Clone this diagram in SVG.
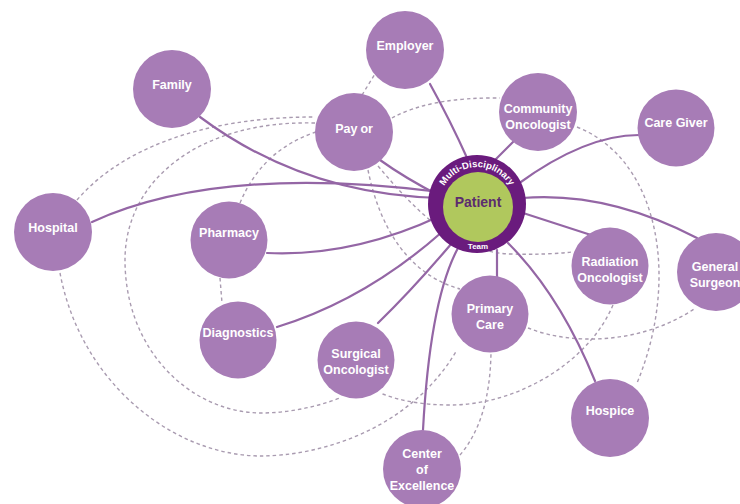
<svg xmlns="http://www.w3.org/2000/svg" width="740" height="504" viewBox="0 0 740 504">
<defs>
<style>
.n{fill:#a77cb6}
.t{font-family:"Liberation Sans",Arial,sans-serif;font-weight:bold;font-size:12.5px;fill:#fff;text-anchor:middle}
.s{fill:none;stroke:#9466a5;stroke-width:2.2;stroke-linecap:round}
.d{fill:none;stroke:#a99bb0;stroke-width:1.4;stroke-dasharray:3.5 3}
</style>
<path id="arc" d="M439.6,198.4 A38,38 0 0 1 514.4,198.4"/>
</defs>
<rect width="740" height="504" fill="#fff"/>
<g id="connectors">
<path class="d" d="M77,200 C120,150 200,117 315,117"/>
<path class="d" d="M392,118 Q430,97 500,98"/>
<path class="d" d="M577,127 C660,160 680,280 637,383"/>
<path class="d" d="M60,273 C80,380 170,455 260,456 C320,456 410,430 457,350"/>
<path class="d" d="M315,123 C200,120 125,180 125,260 C125,350 190,412 260,413 Q300,413 340,398"/>
<path class="d" d="M240,203 Q262,150 316,132"/>
<path class="d" d="M362,95 L375,74"/>
<path class="d" d="M368,170 C380,230 410,275 460,289"/>
<path class="d" d="M378,166 C415,210 455,252 510,254 Q545,255 572,252"/>
<path class="d" d="M528,328 C570,345 640,345 694,309"/>
<path class="d" d="M613,305 C590,360 520,405 450,405 Q410,405 380,393"/>
<path class="d" d="M460,455 Q490,420 491,352"/>
<path class="d" d="M220,278 L222,303"/>
<path class="s" d="M430,84 Q450,120 468,160"/>
<path class="s" d="M200,117 Q305,195 440,198"/>
<path class="s" d="M380,160 Q405,178 440,196"/>
<path class="s" d="M92,222 Q219,164 440,192"/>
<path class="s" d="M267,253 Q352,257 440,216"/>
<path class="s" d="M277,327 Q365,300 442,232"/>
<path class="s" d="M378,323 Q412,290 452,243"/>
<path class="s" d="M423,430 Q430,300 458,248"/>
<path class="s" d="M497,250 L497,277"/>
<path class="s" d="M508,243 Q560,295 595,381"/>
<path class="s" d="M520,212 L591,235"/>
<path class="s" d="M522,198 Q607,191 697,238"/>
<path class="s" d="M518,184 Q585,135 639,135"/>
<path class="s" d="M495,160 L514,141"/>
</g>
<g id="employer"><circle class="n" cx="405" cy="50" r="39"/><text class="t" x="405" y="49.5">Employer</text></g>
<g id="family"><circle class="n" cx="172" cy="89" r="39"/><text class="t" x="172" y="88.5">Family</text></g>
<g id="payor"><circle class="n" cx="354" cy="132" r="39"/><text class="t" x="354" y="132.5">Pay<tspan dx="3">or</tspan></text></g>
<g id="community-oncologist"><circle class="n" cx="538" cy="112" r="39"/><text class="t" x="538" y="112.5">Community</text><text class="t" x="538" y="128.5">Oncologist</text></g>
<g id="care-giver"><circle class="n" cx="676" cy="128" r="38.5"/><text class="t" x="676" y="126.5">Care Giver</text></g>
<g id="hospital"><circle class="n" cx="53" cy="232" r="39"/><text class="t" x="53" y="231.5">Hospital</text></g>
<g id="pharmacy"><circle class="n" cx="229" cy="240" r="38.5"/><text class="t" x="229" y="236.5">Pharmacy</text></g>
<g id="diagnostics"><circle class="n" cx="238" cy="340" r="38.5"/><text class="t" x="238" y="336.5">Diagnostics</text></g>
<g id="surgical-oncologist"><circle class="n" cx="356" cy="360" r="38.5"/><text class="t" x="356" y="357.5">Surgical</text><text class="t" x="356" y="373.5">Oncologist</text></g>
<g id="primary-care"><circle class="n" cx="490" cy="314" r="38.5"/><text class="t" x="490" y="313">Primary</text><text class="t" x="490" y="329">Care</text></g>
<g id="center-of-excellence"><circle class="n" cx="422" cy="469" r="39"/><text class="t" x="422" y="458">Center</text><text class="t" x="422" y="474">of</text><text class="t" x="422" y="490">Excellence</text></g>
<g id="hospice"><circle class="n" cx="610" cy="418" r="39"/><text class="t" x="610" y="414.5">Hospice</text></g>
<g id="radiation-oncologist"><circle class="n" cx="610" cy="266" r="38.5"/><text class="t" x="610" y="265.5">Radiation</text><text class="t" x="610" y="281.5">Oncologist</text></g>
<g id="general-surgeon"><circle class="n" cx="716" cy="272" r="39"/><text class="t" x="715" y="270.5">General</text><text class="t" x="715" y="286.5">Surgeon</text></g>
<g id="patient">
<circle cx="477" cy="204" r="49" fill="#6a1b7d"/>
<circle cx="478" cy="207" r="35" fill="#b0c85d"/>
<text font-family="Liberation Sans,Arial,sans-serif" font-weight="bold" font-size="14" fill="#5b2c6f" text-anchor="middle" x="478" y="207">Patient</text>
<text font-family="Liberation Sans,Arial,sans-serif" font-weight="bold" font-size="9.5" fill="#fff" text-anchor="middle"><textPath href="#arc" startOffset="50%">Multi-Disciplinary</textPath></text>
<text font-family="Liberation Sans,Arial,sans-serif" font-weight="bold" font-size="8" fill="#fff" text-anchor="middle" x="478" y="249">Team</text>
</g>
</svg>
